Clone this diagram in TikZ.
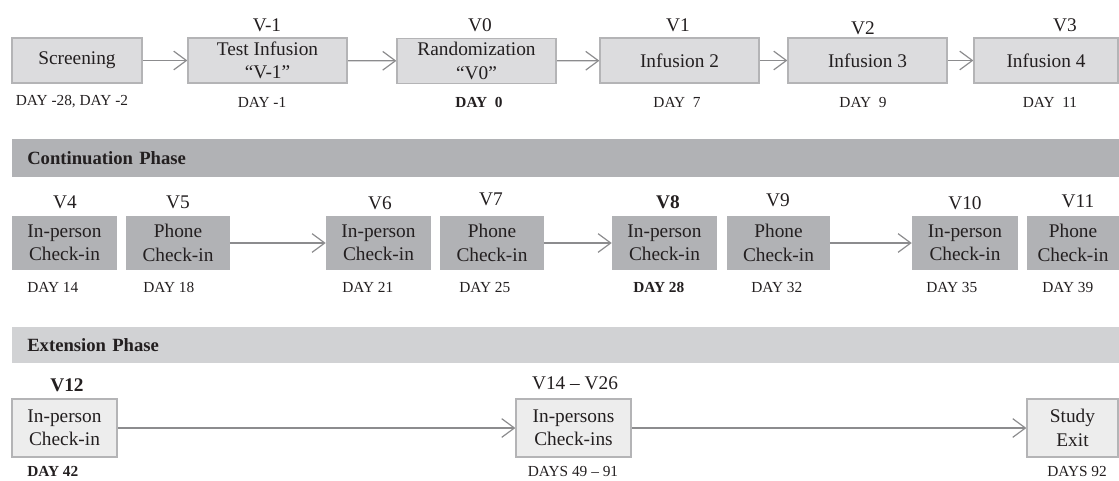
\documentclass[tikz,border=0pt]{standalone}
\usepackage{fontspec}
\setmainfont{Liberation Serif}
\usepackage{xcolor}
\usepackage{tikz}
\usetikzlibrary{arrows.meta}
\usetikzlibrary{backgrounds}
\pgfdeclarelayer{edgelayer}
\pgfdeclarelayer{nodelayer}
\pgfsetlayers{background,edgelayer,nodelayer,main}
\definecolor{inkgray}{HTML}{231F20}
\definecolor{edgegray}{HTML}{B4B4B6}
\definecolor{dosegray}{HTML}{DCDCDE}
\definecolor{checkgray}{HTML}{B1B2B5}
\definecolor{extgray}{HTML}{EDEDED}
\definecolor{extbar}{HTML}{D1D2D4}
\definecolor{arrowgray}{HTML}{8C8C8E}
\tikzstyle{none}=[inner sep=0mm,text=inkgray,font=\fontsize{14.5}{17.5}\selectfont]
\tikzstyle{day}=[none,font=\fontsize{11.5}{13}\selectfont]
\tikzstyle{dose}=[none,draw=edgegray,fill=dosegray,line width=0.9pt,align=center,minimum height=33.75pt]
\tikzstyle{check}=[none,fill=checkgray,align=center,minimum height=40.5pt]
\tikzstyle{ext}=[none,draw=edgegray,fill=extgray,line width=0.9pt,align=center,minimum height=43.5pt]
\tikzstyle{phase}=[none,anchor=west,inner xsep=11.25pt,text width=807.75pt,align=left,font=\fontsize{14}{16}\selectfont\bfseries]
\tikzstyle{flow}=[draw=arrowgray,line width=0.9pt,-{Straight Barb[length=9.5pt,width=14pt]}]

\begin{document}
\begin{tikzpicture}[x=0.75pt,y=-0.75pt]
	\useasboundingbox (0,0) rectangle (1119,480);
	\begin{pgfonlayer}{nodelayer}
		% infusion visits
		\node [style=dose,minimum width=97.5pt] (scr) at (77,60.5) {Screening};
		\node [style=dose,minimum width=119.25pt] (vm1) at (267.5,60.5) {Test Infusion\\“V-1”};
		\node [style=dose,minimum width=119.25pt] (v0) at (476.5,61) {Randomization\\“V0”};
		\node [style=dose,minimum width=119.25pt] (v1) at (679.5,60.5) {Infusion 2};
		\node [style=dose,minimum width=119.25pt] (v2) at (867.5,60.5) {Infusion 3};
		\node [style=dose,minimum width=108pt] (v3) at (1046,60.5) {Infusion 4};
		\node [style=none] (lm1) at (267,25) {V-1};
		\node [style=none] (l0) at (480,25) {V0};
		\node [style=none] (l1) at (678,25) {V1};
		\node [style=none] (l2) at (863,28) {V2};
		\node [style=none] (l3) at (1065,25) {V3};
		\node [style=day] (dscr) at (72,102) {DAY -28, DAY -2};
		\node [style=day] (dm1) at (262,102) {DAY -1};
		\node [style=day] (d0) at (479,102) {\bfseries DAY~~0};
		\node [style=day] (d1) at (677,102) {DAY~~7};
		\node [style=day] (d2) at (863,102) {DAY~~9};
		\node [style=day] (d3) at (1050,102) {DAY~~11};

		% continuation phase
		\node [style=phase,fill=checkgray,minimum height=28.5pt] (cont) at (12,158) {Continuation Phase};
		\node [style=check,minimum width=78.75pt] (v4) at (64.5,243) {In-person\\Check-in};
		\node [style=check,minimum width=78pt] (v5) at (178,243) {Phone\\Check-in};
		\node [style=check,minimum width=78.75pt] (v6) at (378.5,243) {In-person\\Check-in};
		\node [style=check,minimum width=78pt] (v7) at (492,243) {Phone\\Check-in};
		\node [style=check,minimum width=78.75pt] (v8) at (664.5,243) {In-person\\Check-in};
		\node [style=check,minimum width=77.25pt] (v9) at (778.5,243) {Phone\\Check-in};
		\node [style=check,minimum width=79.5pt] (v10) at (965,243) {In-person\\Check-in};
		\node [style=check,minimum width=69pt] (v11) at (1073,243) {Phone\\Check-in};
		\node [style=none] (l4) at (65,202) {V4};
		\node [style=none] (l5) at (178,202) {V5};
		\node [style=none] (l6) at (380,203) {V6};
		\node [style=none] (l7) at (491,199) {V7};
		\node [style=none] (l8) at (668,202) {\bfseries V8};
		\node [style=none] (l9) at (778,200) {V9};
		\node [style=none] (l10) at (965,203) {V10};
		\node [style=none] (l11) at (1078,201) {V11};
		\node [style=day,anchor=west] (d4) at (27,287) {DAY 14};
		\node [style=day,anchor=west] (d5) at (143,287) {DAY 18};
		\node [style=day,anchor=west] (d6) at (342,287) {DAY 21};
		\node [style=day,anchor=west] (d7) at (459,287) {DAY 25};
		\node [style=day,anchor=west] (d8) at (633,287) {\bfseries DAY 28};
		\node [style=day,anchor=west] (d9) at (751,287) {DAY 32};
		\node [style=day,anchor=west] (d10) at (926,287) {DAY 35};
		\node [style=day,anchor=west] (d11) at (1042,287) {DAY 39};

		% extension phase
		\node [style=phase,fill=extbar,minimum height=27pt] (extn) at (12,345) {Extension Phase};
		\node [style=ext,minimum width=78.75pt] (v12) at (64.5,428) {In-person\\Check-in};
		\node [style=ext,minimum width=86.25pt] (v14) at (573.5,428) {In-persons\\Check-ins};
		\node [style=ext,minimum width=68.25pt] (exit) at (1072.5,428) {Study\\Exit};
		\node [style=none] (l12) at (67,385) {\bfseries V12};
		\node [style=none] (l14) at (575,383) {V14 -- V26};
		\node [style=day,anchor=west] (d12) at (27,471) {\bfseries DAY 42};
		\node [style=day] (d14) at (573,471) {DAYS 49 -- 91};
		\node [style=day] (dexit) at (1077,471) {DAYS 92};
	\end{pgfonlayer}
	\begin{pgfonlayer}{edgelayer}
		\draw [style=flow] (scr) to (vm1);
		\draw [style=flow] (vm1) to (v0);
		\draw [style=flow] (v0) to (v1);
		\draw [style=flow] (v1) to (v2);
		\draw [style=flow] (v2) to (v3);
		\draw [style=flow] (v5) to (v6);
		\draw [style=flow] (v7) to (v8);
		\draw [style=flow] (v9) to (v10);
		\draw [style=flow] (v12) to (v14);
		\draw [style=flow] (v14) to (exit);
	\end{pgfonlayer}
\end{tikzpicture}
\end{document}
